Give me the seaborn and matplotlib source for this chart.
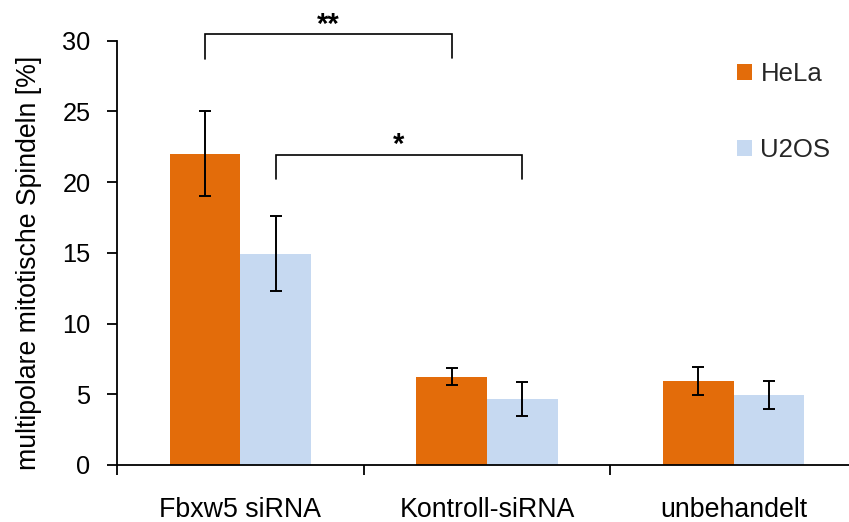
import matplotlib
matplotlib.use("Agg")
import matplotlib.pyplot as plt
import seaborn as sns
import pandas as pd

categories = ["Fbxw5 siRNA", "Kontroll-siRNA", "unbehandelt"]
series_names = ["HeLa", "U2OS"]
hela_values = [22.0, 6.25, 5.95]
u2os_values = [14.95, 4.65, 4.95]
hela_errors = [3.0, 0.6, 1.0]
u2os_errors = [2.65, 1.2, 1.0]
y_ticks = [0, 5, 10, 15, 20, 25, 30]
y_label = "multipolare mitotische Spindeln [%]"

colors = ["#E36C0A", "#C6D9F1"]

df = pd.DataFrame({
    "Gruppe": categories * 2,
    "Wert": hela_values + u2os_values,
    "Zelllinie": [series_names[0]] * 3 + [series_names[1]] * 3,
})

sns.set_theme(style="white")
plt.rcParams["font.family"] = ["Liberation Sans", "DejaVu Sans"]

fig = plt.figure(figsize=(8.49, 5.22), dpi=100)
ax = fig.add_axes([117 / 849, 57 / 522, 740 / 849, 424.3 / 522])

sns.barplot(data=df, x="Gruppe", y="Wert", hue="Zelllinie", order=categories,
            hue_order=series_names, palette=colors, width=0.573, errorbar=None,
            saturation=1, linewidth=0, ax=ax)

errs = [hela_errors, u2os_errors]
centers = []
for cont, e in zip(ax.containers, errs):
    xs = [p.get_x() + p.get_width() / 2 for p in cont.patches]
    ys = [p.get_height() for p in cont.patches]
    centers.append(xs)
    ax.errorbar(xs, ys, yerr=e, fmt="none", ecolor="black", elinewidth=1.4,
                capsize=4, capthick=1.4, zorder=5)

ax.set_xlim(-0.5, 2.5)
ax.set_ylim(0, 30)
ax.set_yticks(y_ticks)
ax.set_yticklabels([str(t) for t in y_ticks])
ax.set_xticks([0, 1, 2])
ax.set_xticklabels(categories)
ax.set_xticks([-0.5, 0.5, 1.5, 2.5], minor=True)
ax.tick_params(axis="x", which="major", length=0, pad=23, labelsize=19.3, colors="black")
ax.tick_params(axis="x", which="minor", length=7, width=1.3, direction="out",
               color="black", bottom=True)
ax.tick_params(axis="y", which="major", length=7, width=1.3, direction="out",
               pad=12, labelsize=18.3, colors="black", left=True)
for s in ["top", "right"]:
    ax.spines[s].set_visible(False)
for s in ["left", "bottom"]:
    ax.spines[s].set_color("black")
    ax.spines[s].set_linewidth(1.3)
ax.set_xlabel("")
ax.set_ylabel(y_label, fontsize=19.2, color="black")
ax.yaxis.set_label_coords(-0.101, 0.477)

# significance brackets
def bracket(x1, x2, ytop, yl, yr, text, ytext):
    ax.plot([x1, x1, x2, x2], [yl, ytop, ytop, yr], color="black", lw=1.2,
            clip_on=False, solid_joinstyle="miter")
    ax.text((x1 + x2) / 2, ytext, text, ha="center", va="center",
            fontsize=21, fontweight="bold", color="black", clip_on=False)

bracket(centers[0][0], centers[0][1], 30.45, 28.7, 28.8, "**", 31.1)
bracket(centers[1][0], centers[1][1], 21.95, 20.2, 20.25, "*", 22.65)

handles, labels = ax.get_legend_handles_labels()
ax.legend(handles, labels, loc="upper left", bbox_to_anchor=(737 / 849, 1 - 62 / 522),
          bbox_transform=fig.transFigure, frameon=False, fontsize=18.5,
          handlelength=0.58, handleheight=0.58, handletextpad=0.33,
          labelspacing=2.02, borderpad=0, borderaxespad=0)

fig.savefig("out.png", dpi=100)
